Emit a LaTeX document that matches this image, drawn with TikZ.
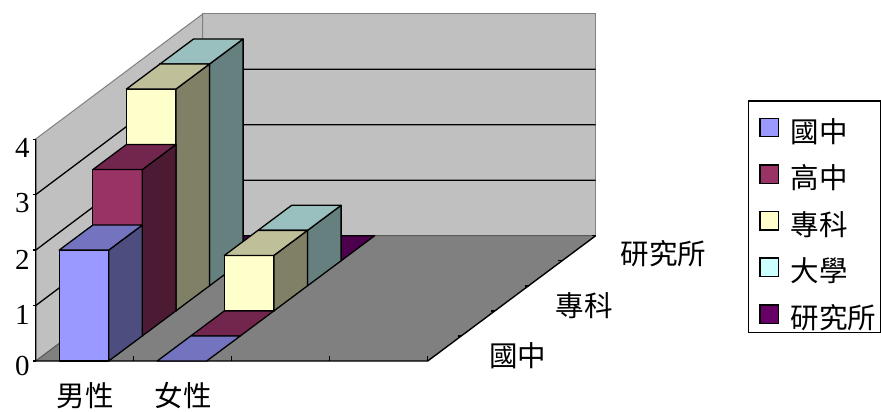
\documentclass[tikz,border=0pt]{standalone}
\usepackage{fontspec}
\setmainfont{Liberation Serif}
\newfontfamily\cjk{Noto Sans CJK TC}
\definecolor{fA}{HTML}{9999FF}\definecolor{tA}{HTML}{7373BF}\definecolor{sA}{HTML}{4D4D80}
\definecolor{fB}{HTML}{993366}\definecolor{tB}{HTML}{73264D}\definecolor{sB}{HTML}{4D1A33}
\definecolor{fC}{HTML}{FFFFCC}\definecolor{tC}{HTML}{BFBF99}\definecolor{sC}{HTML}{808066}
\definecolor{fD}{HTML}{CCFFFF}\definecolor{tD}{HTML}{99BFBF}\definecolor{sD}{HTML}{668080}
\definecolor{fE}{HTML}{660066}\definecolor{tE}{HTML}{4D004D}\definecolor{sE}{HTML}{330033}
\definecolor{wallgray}{HTML}{C0C0C0}
\definecolor{floorgray}{HTML}{808080}
\tikzset{
  barline/.style={draw=black,line width=1.3pt,line join=round},
  wall/.style={fill=wallgray,draw=floorgray,line width=1pt},
  grid3d/.style={draw=black,line width=1.3pt},
  axisline/.style={draw=black,line width=1.4pt},
  cjklabel/.style={font=\cjk\fontsize{28.5}{31}\selectfont,inner sep=0pt},
  numlabel/.style={font=\fontsize{29}{32}\selectfont,inner sep=0pt},
  legsq/.style={draw=black,line width=1.3pt,minimum size=18.5pt,inner sep=0pt},
}
% category, series, value, front, top, side
\newcommand{\cbar}[6]{%
  \pgfmathsetmacro{\bXa}{35.7+98*#1+23.5+33.6*#2}%
  \pgfmathsetmacro{\bYa}{361-25.06*#2}%
  \pgfmathsetmacro{\bXb}{\bXa+49.5}%
  \pgfmathsetmacro{\bYt}{\bYa-55.45*#3}%
  \pgfmathsetmacro{\bXc}{\bXa+33.6}%
  \pgfmathsetmacro{\bXd}{\bXb+33.6}%
  \pgfmathsetmacro{\bYb}{\bYa-25.06}%
  \pgfmathsetmacro{\bYtb}{\bYt-25.06}%
  \ifdim #3pt>0pt
    \filldraw[barline,fill=#4] (\bXa,\bYa) rectangle (\bXb,\bYt);
    \filldraw[barline,fill=#6] (\bXb,\bYa) -- (\bXd,\bYb) -- (\bXd,\bYtb) -- (\bXb,\bYt) -- cycle;
  \fi
  \filldraw[barline,fill=#5] (\bXa,\bYt) -- (\bXb,\bYt) -- (\bXd,\bYtb) -- (\bXc,\bYtb) -- cycle;
}
\begin{document}
\begin{tikzpicture}[x=1pt,y=-1pt]
\useasboundingbox (0,0) rectangle (881,412);
% walls
\filldraw[wall] (202.7,14) rectangle (595.7,235.7);
\filldraw[wall] (35.7,361) -- (35.7,139) -- (202.7,14) -- (202.7,235.7) -- cycle;
% floor
\fill[floorgray] (35.7,361) -- (427.7,361) -- (595.7,235.7) -- (202.7,235.7) -- cycle;
\draw[floorgray!70!black,line width=1pt] (35.7,361) -- (202.7,235.7) -- (595.7,235.7);
% gridlines
\foreach \v in {1,2,3}{
  \draw[grid3d] (35.7,361-55.45*\v) -- (202.7,235.7-55.45*\v) -- (595.7,235.7-55.45*\v);
}
% axes
\draw[axisline] (35.7,139) -- (35.7,361) -- (427.7,361) -- (595.7,235.7);
\foreach \v in {0,...,4}{ \draw[axisline] (32.5,361-55.45*\v) -- (35.7,361-55.45*\v); }
\foreach \c in {1,2,3,4}{ \draw[axisline] (35.7+98*\c,361) -- (35.7+98*\c,356); }
\foreach \k in {1,...,5}{ \draw[axisline] (427.7+33.6*\k,361-25.06*\k) -- (424+33.6*\k,361-25.06*\k); }
% bars: back to front
\cbar{0}{4}{0}{fE}{tE}{sE}
\cbar{1}{4}{0}{fE}{tE}{sE}
\cbar{0}{3}{4}{fD}{tD}{sD}
\cbar{1}{3}{1}{fD}{tD}{sD}
\cbar{0}{2}{4}{fC}{tC}{sC}
\cbar{1}{2}{1}{fC}{tC}{sC}
\cbar{0}{1}{3}{fB}{tB}{sB}
\cbar{1}{1}{0}{fB}{tB}{sB}
\cbar{0}{0}{2}{fA}{tA}{sA}
\cbar{1}{0}{0}{fA}{tA}{sA}
% value labels
\node[numlabel] (n0) at (22.5,365.5) {0};
\node[numlabel] (n1) at (22.5,314.5) {1};
\node[numlabel] (n2) at (22.5,259.5) {2};
\node[numlabel] (n3) at (22.5,203.5) {3};
\node[numlabel] (n4) at (22.5,148) {4};
% category labels
\node[cjklabel] (m) at (85,396) {男性};
\node[cjklabel] (f) at (183,396) {女性};
% depth labels
\node[cjklabel,anchor=west] (d1) at (489,355.5) {國中};
\node[cjklabel,anchor=west] (d3) at (555.5,305.5) {專科};
\node[cjklabel,anchor=west] (d5) at (620.5,254) {研究所};
% legend
\draw[black,line width=1.4pt] (748.3,101) rectangle (880.3,332.5);
\node[legsq,fill=fA] (l1) at (769.3,127.5) {};
\node[legsq,fill=fB] (l2) at (769.3,174.2) {};
\node[legsq,fill=fC] (l3) at (769.3,220.8) {};
\node[legsq,fill=fD] (l4) at (769.3,267.2) {};
\node[legsq,fill=fE] (l5) at (769.3,314.2) {};
\node[cjklabel,anchor=west] (t1) at (790.5,131.3) {國中};
\node[cjklabel,anchor=west] (t2) at (790.5,178) {高中};
\node[cjklabel,anchor=west] (t3) at (790.5,224.6) {專科};
\node[cjklabel,anchor=west] (t4) at (790.5,271) {大學};
\node[cjklabel,anchor=west] (t5) at (790.5,318) {研究所};
\end{tikzpicture}
\end{document}
